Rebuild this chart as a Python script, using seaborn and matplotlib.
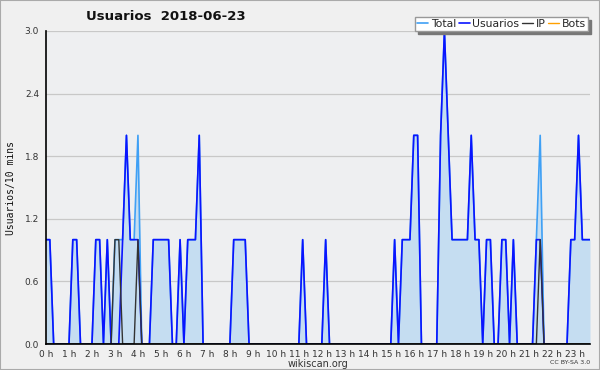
import numpy as np
import pandas as pd
import matplotlib
matplotlib.use("Agg")
import matplotlib.pyplot as plt
import seaborn as sns
from matplotlib.ticker import MultipleLocator, FixedLocator, FixedFormatter

# 10-minute buckets, one row per hour (last hour ends at 23:40)
usuarios = [
    1, 1, 0, 0, 0, 0,   # 0 h
    0, 1, 1, 0, 0, 0,   # 1 h
    0, 1, 1, 0, 1, 0,   # 2 h
    0, 0, 1, 2, 1, 1,   # 3 h
    1, 0, 0, 0, 1, 1,   # 4 h
    1, 1, 1, 0, 0, 1,   # 5 h
    0, 1, 1, 1, 2, 0,   # 6 h
    0, 0, 0, 0, 0, 0,   # 7 h
    0, 1, 1, 1, 1, 0,   # 8 h
    0, 0, 0, 0, 0, 0,   # 9 h
    0, 0, 0, 0, 0, 0,   # 10 h
    0, 1, 0, 0, 0, 0,   # 11 h
    0, 1, 0, 0, 0, 0,   # 12 h
    0, 0, 0, 0, 0, 0,   # 13 h
    0, 0, 0, 0, 0, 0,   # 14 h
    0, 1, 0, 1, 1, 1,   # 15 h
    2, 2, 0, 0, 0, 0,   # 16 h
    0, 2, 3, 2, 1, 1,   # 17 h
    1, 1, 1, 2, 1, 1,   # 18 h
    0, 1, 1, 0, 0, 1,   # 19 h
    1, 0, 1, 0, 0, 0,   # 20 h
    0, 0, 1, 1, 0, 0,   # 21 h
    0, 0, 0, 0, 0, 1,   # 22 h
    1, 2, 1, 1, 1,      # 23 h
]
ip = [
    0, 0, 0, 0, 0, 0,
    0, 0, 0, 0, 0, 0,
    0, 0, 0, 0, 0, 0,
    1, 1, 0, 0, 0, 0,
    1, 0, 0, 0, 0, 0,
    0, 0, 0, 0, 0, 0,
    0, 0, 0, 0, 0, 0,
    0, 0, 0, 0, 0, 0,
    0, 0, 0, 0, 0, 0,
    0, 0, 0, 0, 0, 0,
    0, 0, 0, 0, 0, 0,
    0, 0, 0, 0, 0, 0,
    0, 0, 0, 0, 0, 0,
    0, 0, 0, 0, 0, 0,
    0, 0, 0, 0, 0, 0,
    0, 0, 0, 0, 0, 0,
    0, 0, 0, 0, 0, 0,
    0, 0, 0, 0, 0, 0,
    0, 0, 0, 0, 0, 0,
    0, 0, 0, 0, 0, 0,
    0, 0, 0, 0, 0, 0,
    0, 0, 0, 1, 0, 0,
    0, 0, 0, 0, 0, 0,
    0, 0, 0, 0, 0,
]
bots = [
    0, 0, 0, 0, 0, 0,
    0, 0, 0, 0, 0, 0,
    0, 0, 0, 0, 0, 0,
    0, 0, 0, 0, 0, 0,
    0, 0, 0, 0, 0, 0,
    0, 0, 0, 0, 0, 0,
    0, 0, 0, 0, 0, 0,
    0, 0, 0, 0, 0, 0,
    0, 0, 0, 0, 0, 0,
    0, 0, 0, 0, 0, 0,
    0, 0, 0, 0, 0, 0,
    0, 0, 0, 0, 0, 0,
    0, 0, 0, 0, 0, 0,
    0, 0, 0, 0, 0, 0,
    0, 0, 0, 0, 0, 0,
    0, 0, 0, 0, 0, 0,
    0, 0, 0, 0, 0, 0,
    0, 0, 0, 0, 0, 0,
    0, 0, 0, 0, 0, 0,
    0, 0, 0, 0, 0, 0,
    0, 0, 0, 0, 0, 0,
    0, 0, 0, 0, 0, 0,
    0, 0, 0, 0, 0, 0,
    0, 0, 0, 0, 0,
]
total = [
    1, 1, 0, 0, 0, 0,
    0, 1, 1, 0, 0, 0,
    0, 1, 1, 0, 1, 0,
    1, 1, 1, 2, 1, 1,
    2, 0, 0, 0, 1, 1,
    1, 1, 1, 0, 0, 1,
    0, 1, 1, 1, 2, 0,
    0, 0, 0, 0, 0, 0,
    0, 1, 1, 1, 1, 0,
    0, 0, 0, 0, 0, 0,
    0, 0, 0, 0, 0, 0,
    0, 1, 0, 0, 0, 0,
    0, 1, 0, 0, 0, 0,
    0, 0, 0, 0, 0, 0,
    0, 0, 0, 0, 0, 0,
    0, 1, 0, 1, 1, 1,
    2, 2, 0, 0, 0, 0,
    0, 2, 3, 2, 1, 1,
    1, 1, 1, 2, 1, 1,
    0, 1, 1, 0, 0, 1,
    1, 0, 1, 0, 0, 0,
    0, 0, 1, 2, 0, 0,
    0, 0, 0, 0, 0, 1,
    1, 2, 1, 1, 1,
]
hour_labels = [f"{h} h" for h in range(24)]
y_ticks = [0.0, 0.6, 1.2, 1.8, 2.4, 3.0]

n = len(usuarios)
df = pd.DataFrame({
    "t": np.arange(n) / 6.0,
    "Total": total,
    "Usuarios": usuarios,
    "IP": ip,
    "Bots": bots,
})

sns.set_style("white")
plt.rcParams["font.family"] = ["DejaVu Sans"]

fig = plt.figure(figsize=(6, 3.7), dpi=100, facecolor="#f0f0f0")
ax = fig.add_axes([46 / 600, 1 - 344 / 370, 544 / 600, 313 / 370])
ax.set_facecolor("#eeeff1")

c_total = "#3fa0f5"
c_fill = "#c5ddf1"
c_user = "#0a14ff"
c_ip = "#333333"
c_bots = "#ffa000"

ax.fill_between(df["t"], 0, df["Total"], color=c_fill, lw=0, zorder=1)
sns.lineplot(data=df, x="t", y="Total", color=c_total, lw=1.2, ax=ax, label="Total", zorder=3)
sns.lineplot(data=df, x="t", y="Usuarios", color=c_user, lw=1.2, ax=ax, label="Usuarios", zorder=4)
sns.lineplot(data=df, x="t", y="IP", color=c_ip, lw=1.0, ax=ax, label="IP", zorder=5)
sns.lineplot(data=df, x="t", y="Bots", color=c_bots, lw=1.0, ax=ax, label="Bots", zorder=2)

ax.set_xlim(0, (n - 1) / 6.0)
ax.set_ylim(0, 3.0)
ax.yaxis.set_major_locator(FixedLocator(y_ticks))
ax.yaxis.set_major_formatter(FixedFormatter([f"{v:.1f}" for v in y_ticks]))
ax.yaxis.set_minor_locator(MultipleLocator(0.15))
ax.xaxis.set_major_locator(FixedLocator(list(range(24))))
ax.xaxis.set_major_formatter(FixedFormatter(hour_labels))
ax.xaxis.set_minor_locator(MultipleLocator(1 / 6))
ax.grid(axis="y", color="#c8c8c8", lw=0.9, zorder=0)
ax.set_axisbelow(True)

for s in ["top", "right"]:
    ax.spines[s].set_visible(False)
for s in ["left", "bottom"]:
    ax.spines[s].set_color("black")
    ax.spines[s].set_linewidth(1.2)
    ax.spines[s].set_zorder(6)

ax.tick_params(axis="both", which="major", direction="out", length=4, width=1,
               labelsize=6.5, labelcolor="#333333", pad=1)
ax.tick_params(axis="both", which="minor", direction="out", length=2.5, width=1)
ax.tick_params(axis="x", which="major", length=3)

ax.set_xlabel("wikiscan.org", fontsize=7, color="#333333", labelpad=0)
ax.set_ylabel("Usuarios/10 mins", fontsize=7, family="DejaVu Sans Mono",
              color="#111111", labelpad=6)

fig.text(86 / 600, 1 - 17 / 370, "Usuarios  2018-06-23", fontsize=9.5,
         fontweight="bold", ha="left", va="center", color="#111111")
fig.text(590 / 600, 1 - 362 / 370, "CC BY-SA 3.0", fontsize=4.5, ha="right",
         va="center", color="#333333")

leg = ax.legend(loc="upper right", bbox_to_anchor=(588 / 600, 1 - 17 / 370),
                bbox_transform=fig.transFigure, ncol=4, fontsize=7.8,
                frameon=True, fancybox=False,
                shadow={"color": "#777777", "alpha": 1, "ox": 2.2, "oy": -2.2},
                handlelength=1.0, handletextpad=0.25, columnspacing=0.25,
                borderpad=0.2, borderaxespad=0)
leg.get_frame().set_edgecolor("#999999")
leg.get_frame().set_facecolor("white")
leg.get_frame().set_alpha(1)
leg.set_zorder(10)

fig.patches.append(plt.Rectangle((0, 0), 1, 1, transform=fig.transFigure,
                                 fill=False, edgecolor="#aaaaaa", lw=1.5))

fig.savefig("out.png", dpi=100, facecolor=fig.get_facecolor())
